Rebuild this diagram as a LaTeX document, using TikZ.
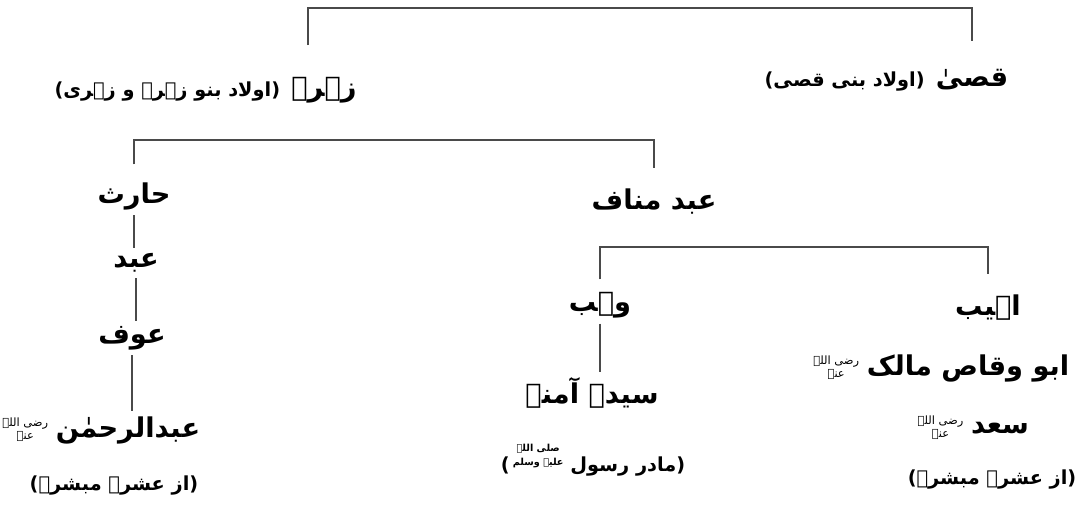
\documentclass[tikz,border=0pt]{standalone}
\usepackage{fontspec}
\usepackage{xcolor}
\usepackage{tikz}
\usetikzlibrary{positioning}
\TeXXeTstate=1
\newfontfamily\urdufont[Script=Arabic]{DejaVu Sans}
\definecolor{treegray}{HTML}{4A4A4A}
\newcommand{\ur}[1]{\beginR #1\endR}
\newcommand{\honorstack}[2]{\raisebox{3pt}{\fontsize{5.5}{6.5}\selectfont\shortstack{\beginR #1\endR\\\beginR #2\endR}}}

\begin{document}
\begin{tikzpicture}[x=0.02cm, y=-0.02cm,
  person/.style={inner sep=1pt, font=\urdufont\bfseries\fontsize{15.5}{19}\selectfont},
  kin/.style={inner sep=1pt, font=\urdufont\bfseries\fontsize{11}{14}\selectfont},
  honor/.style={inner sep=0pt, align=center, font=\urdufont\fontsize{6.5}{7.5}\selectfont},
  branch/.style={treegray, line width=1.1pt},
  link/.style={treegray, line width=0.8pt, shorten <=2pt, shorten >=2pt}
]
\useasboundingbox (0,0) rectangle (1078,516);

% qusayy and zuhra
\node[person] (qusayy) at (972,80) {\ur{قصیٰ}};
\node[kin, base left=4pt of qusayy] (qusayykin) {\ur{(اولاد بنی قصی)}};
\node[person] (zuhra) at (324,90) {\ur{زہرہ}};
\node[kin, base left=4pt of zuhra] (zuhrakin) {\ur{(اولاد بنو زہرہ و زہری)}};
\coordinate (top1) at (640,8);
\draw[branch, shorten <=17pt, shorten >=15pt] ([xshift=-9pt]zuhra.north) |- (top1) -| (qusayy.north);

% children of zuhra
\node[person] (harith) at (134,196) {\ur{حارث}};
\node[person] (abdmanaf) at (654,202) {\ur{عبد مناف}};
\coordinate (top2) at (400,140);
\draw[branch, shorten <=9pt, shorten >=11pt] (harith.north) |- (top2) -| (abdmanaf.north);

% line of harith
\node[person] (abd) at (136,263) {\ur{عبد}};
\node[person] (awf) at (132,338) {\ur{عوف}};
\node[person] (abdrahman) at (128,430) {\ur{عبدالرحمٰن}};
\node[honor, left=3pt of abdrahman] (abdrahmanhonor) {\ur{رضی اللہ}\\\ur{عنہ}};
\node[kin] (ashara1) at (114,486) {\ur{(از عشرہ مبشرہ)}};
\draw[link] (harith.south) -- (harith.south |- abd.north);
\draw[link] (abd.south) -- (abd.south |- awf.north);
\draw[link] (awf.south) -- (awf.south |- abdrahman.north);

% children of abd manaf
\node[person] (wahb) at (600,305) {\ur{وہب}};
\node[person] (sayyida) at (592,393) {\ur{سیدہ آمنہ}};
\node[kin] (madar) at (593,460) {\ur{(مادر رسول \honorstack{صلی اللہ}{علیہ وسلم}\,^^^^200f)}};
\draw[link] (wahb.south) -- (wahb.south |- sayyida.north);

\node[person] (uhayb) at (988,308) {\ur{اہیب}};
\node[person] (abuwaqqas) at (968,368) {\ur{ابو وقاص مالک}};
\node[honor, left=3pt of abuwaqqas] (abuwaqqashonor) {\ur{رضی اللہ}\\\ur{عنہ}};
\node[person] (saad) at (1000,428) {\ur{سعد}};
\node[honor, left=3pt of saad] (saadhonor) {\ur{رضی اللہ}\\\ur{عنہ}};
\node[kin] (ashara2) at (992,480) {\ur{(از عشرہ مبشرہ)}};
\coordinate (top3) at (790,247);
\draw[branch, shorten <=6pt, shorten >=11pt] (wahb.north) |- (top3) -| (uhayb.north);
\end{tikzpicture}
\end{document}
